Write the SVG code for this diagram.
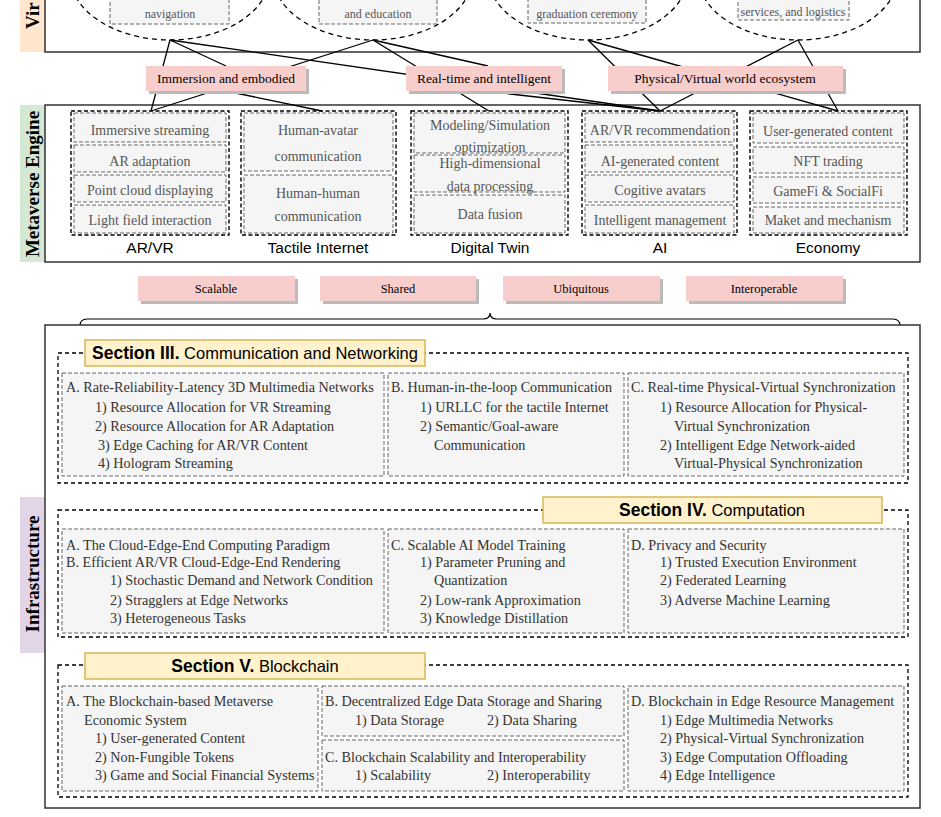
<svg xmlns="http://www.w3.org/2000/svg" width="941" height="817" viewBox="0 0 941 817">
<style>
.frame{fill:#fff;stroke:#333;stroke-width:1.5}
.band-v{fill:#ffe6cc}
.band-e{fill:#d5e8d4}
.band-i{fill:#e1d5e7}
.band-t{font-family:"Liberation Serif",serif;font-weight:bold;font-size:19px;fill:#000}
.ell{fill:#fff;stroke:#000;stroke-width:1.3;stroke-dasharray:5 4}
.item{fill:#f5f5f5;stroke:#666;stroke-width:1;stroke-dasharray:4 2}
.grp{fill:none;stroke:#000;stroke-width:1.4;stroke-dasharray:4 2.5}
.it{font-family:"Liberation Serif",serif;font-size:14px;fill:#555;text-anchor:middle}
.st{font-family:"Liberation Serif",serif;font-size:12px;fill:#555;text-anchor:middle}
.cap{font-family:"Liberation Sans",sans-serif;font-size:15.5px;fill:#000;text-anchor:middle}
.pink{fill:#f8cecc}
.shadow{fill:#bbb}
.pt{font-family:"Liberation Serif",serif;font-size:13.5px;fill:#000;text-anchor:middle}
.pt2{font-family:"Liberation Serif",serif;font-size:12.5px;fill:#000;text-anchor:middle}
.conn{stroke:#000;stroke-width:1.3;fill:none}
.sec{fill:none;stroke:#000;stroke-width:1.3;stroke-dasharray:4 3}
.title{fill:#fff2cc;stroke:#d6b656;stroke-width:1.5}
.tt{font-family:"Liberation Sans",sans-serif;font-size:16.5px;fill:#000;text-anchor:middle}
.tx{font-family:"Liberation Serif",serif;font-size:14.2px;fill:#333}
</style>

<!-- Top band: Virtual -->
<g id="virtual">
<rect class="band-v" x="20" y="0" width="25" height="52"/>
<rect class="frame" x="45" y="-5" width="875" height="57"/>
<text class="band-t" transform="translate(39,29) rotate(-90)">Vir</text>
</g>

<g id="app1">
<ellipse class="ell" cx="170" cy="-25" rx="100" ry="65"/>
<rect class="item" x="110" y="-20" width="119" height="44"/>
<text class="st" x="170" y="18">navigation</text>
</g>
<g id="app2">
<ellipse class="ell" cx="373" cy="-25" rx="100" ry="65"/>
<rect class="item" x="319" y="-20" width="118" height="44"/>
<text class="st" x="378" y="18">and education</text>
</g>
<g id="app3">
<ellipse class="ell" cx="588" cy="-25" rx="100" ry="65"/>
<rect class="item" x="528" y="-20" width="118" height="43"/>
<text class="st" x="587" y="18">graduation ceremony</text>
</g>
<g id="app4">
<ellipse class="ell" cx="798" cy="-25" rx="100" ry="65"/>
<rect class="item" x="738" y="-20" width="111" height="40"/>
<text class="st" x="793" y="16">services, and logistics</text>
</g>

<!-- Engine frame -->
<g id="engine">
<rect class="band-e" x="20" y="105" width="25" height="157"/>
<rect class="frame" x="45" y="105" width="875" height="157"/>
<text class="band-t" text-anchor="middle" transform="translate(39,184) rotate(-90)">Metaverse Engine</text>
</g>

<!-- Connectors -->
<g id="connectors">
<line class="conn" x1="170" y1="40" x2="151" y2="111"/>
<line class="conn" x1="170" y1="40" x2="226" y2="66"/>
<line class="conn" x1="170" y1="40" x2="660" y2="111"/>
<line class="conn" x1="373" y1="40" x2="151" y2="111"/>
<line class="conn" x1="373" y1="40" x2="488" y2="66"/>
<line class="conn" x1="373" y1="40" x2="489" y2="111"/>
<line class="conn" x1="588" y1="40" x2="660" y2="111"/>
<line class="conn" x1="588" y1="40" x2="838" y2="111"/>
<line class="conn" x1="798" y1="40" x2="660" y2="111"/>
<line class="conn" x1="798" y1="40" x2="838" y2="111"/>
<line class="conn" x1="226" y1="91" x2="322" y2="111"/>
<line class="conn" x1="484" y1="91" x2="660" y2="111"/>
</g>

<!-- Feature boxes -->
<g id="f-immersion">
<rect class="shadow" x="149" y="69" width="160" height="25"/>
<rect class="pink" x="146" y="66" width="160" height="25"/>
<text class="pt" x="226" y="83">Immersion and embodied</text>
</g>
<g id="f-realtime">
<rect class="shadow" x="409" y="69" width="156" height="25"/>
<rect class="pink" x="406" y="66" width="156" height="25"/>
<text class="pt" x="484" y="83">Real-time and intelligent</text>
</g>
<g id="f-physical">
<rect class="shadow" x="611" y="69" width="235" height="25"/>
<rect class="pink" x="608" y="66" width="235" height="25"/>
<text class="pt" x="725" y="83">Physical/Virtual world ecosystem</text>
</g>

<!-- Engine groups -->
<g id="arvr">
<rect class="item" x="74" y="113" width="152" height="29"/>
<rect class="item" x="74" y="145" width="152" height="27"/>
<rect class="item" x="74" y="175" width="152" height="27"/>
<rect class="item" x="74" y="205" width="152" height="28"/>
<rect class="grp" x="71" y="111" width="158" height="124"/>
<text class="it" x="150" y="135">Immersive streaming</text>
<text class="it" x="150" y="166">AR adaptation</text>
<text class="it" x="150" y="195">Point cloud displaying</text>
<text class="it" x="150" y="225">Light field interaction</text>
<text class="cap" x="150" y="253">AR/VR</text>
</g>
<g id="tactile">
<rect class="item" x="244" y="113" width="149" height="58"/>
<rect class="item" x="244" y="175" width="149" height="58"/>
<rect class="grp" x="241" y="111" width="155" height="124"/>
<text class="it" x="318" y="135">Human-avatar</text>
<text class="it" x="318" y="161">communication</text>
<text class="it" x="318" y="198">Human-human</text>
<text class="it" x="318" y="221">communication</text>
<text class="cap" x="318" y="253">Tactile Internet</text>
</g>
<g id="twin">
<rect class="item" x="414" y="113" width="151" height="40"/>
<rect class="item" x="414" y="155" width="151" height="37"/>
<rect class="item" x="414" y="195" width="151" height="38"/>
<rect class="grp" x="411" y="111" width="157" height="124"/>
<text class="it" x="490" y="130">Modeling/Simulation</text>
<text class="it" x="490" y="152">optimization</text>
<text class="it" x="490" y="168">High-dimensional</text>
<text class="it" x="490" y="191">data processing</text>
<text class="it" x="490" y="219">Data fusion</text>
<text class="cap" x="490" y="253">Digital Twin</text>
</g>
<g id="ai">
<rect class="item" x="585" y="113" width="149" height="29"/>
<rect class="item" x="585" y="145" width="149" height="27"/>
<rect class="item" x="585" y="175" width="149" height="27"/>
<rect class="item" x="585" y="205" width="149" height="28"/>
<rect class="grp" x="582" y="111" width="155" height="124"/>
<text class="it" x="660" y="135">AR/VR recommendation</text>
<text class="it" x="660" y="166">AI-generated content</text>
<text class="it" x="660" y="195">Cogitive avatars</text>
<text class="it" x="660" y="225">Intelligent management</text>
<text class="cap" x="660" y="253">AI</text>
</g>
<g id="economy">
<rect class="item" x="753" y="113" width="151" height="30"/>
<rect class="item" x="753" y="147" width="151" height="26"/>
<rect class="item" x="753" y="177" width="151" height="26"/>
<rect class="item" x="753" y="207" width="151" height="26"/>
<rect class="grp" x="750" y="111" width="157" height="124"/>
<text class="it" x="828" y="136">User-generated content</text>
<text class="it" x="828" y="166">NFT trading</text>
<text class="it" x="828" y="196">GameFi &amp; SocialFi</text>
<text class="it" x="828" y="225">Maket and mechanism</text>
<text class="cap" x="828" y="253">Economy</text>
</g>

<!-- Properties -->
<g id="p-scalable">
<rect class="shadow" x="141" y="279" width="157" height="25"/>
<rect class="pink" x="138" y="276" width="157" height="25"/>
<text class="pt2" x="216" y="293">Scalable</text>
</g>
<g id="p-shared">
<rect class="shadow" x="323" y="279" width="156" height="25"/>
<rect class="pink" x="320" y="276" width="156" height="25"/>
<text class="pt2" x="398" y="293">Shared</text>
</g>
<g id="p-ubiquitous">
<rect class="shadow" x="506" y="279" width="157" height="25"/>
<rect class="pink" x="503" y="276" width="157" height="25"/>
<text class="pt2" x="581" y="293">Ubiquitous</text>
</g>
<g id="p-interoperable">
<rect class="shadow" x="689" y="279" width="157" height="25"/>
<rect class="pink" x="686" y="276" width="157" height="25"/>
<text class="pt2" x="764" y="293">Interoperable</text>
</g>

<path id="brace" d="M80,326 Q80,319 87,319 L483,319 Q490,319 490,313 Q490,319 497,319 L893,319 Q900,319 900,326" fill="none" stroke="#000" stroke-width="1.2"/>

<!-- Infrastructure -->
<g id="infrastructure">
<rect class="band-i" x="20" y="497" width="25" height="156"/>
<rect class="frame" x="45" y="325" width="875" height="483"/>
<text class="band-t" text-anchor="middle" transform="translate(39,574) rotate(-90)">Infrastructure</text>
</g>

<!-- Section III -->
<g id="sec3">
<rect class="sec" x="58" y="353" width="850" height="130"/>
<rect class="item" x="62" y="373" width="322" height="103"/>
<rect class="item" x="388" y="373" width="236" height="103"/>
<rect class="item" x="628" y="373" width="276" height="103"/>
<rect class="title" x="85" y="340" width="340" height="26"/>
<text class="tt" x="255" y="359"><tspan font-weight="bold" font-size="17.5px">Section III.</tspan> Communication and Networking</text>
<text class="tx" x="66" y="392">A. Rate-Reliability-Latency 3D Multimedia Networks</text>
<text class="tx" x="95" y="412">1) Resource Allocation for VR Streaming</text>
<text class="tx" x="95" y="431">2) Resource Allocation for AR Adaptation</text>
<text class="tx" x="98" y="450" font-size="15px">3) Edge Caching for AR/VR Content</text>
<text class="tx" x="98" y="468" font-size="15px">4) Hologram Streaming</text>
<text class="tx" x="391" y="392">B. Human-in-the-loop Communication</text>
<text class="tx" x="420" y="412">1) URLLC for the tactile Internet</text>
<text class="tx" x="420" y="431">2) Semantic/Goal-aware</text>
<text class="tx" x="434" y="450">Communication</text>
<text class="tx" x="631" y="392">C. Real-time Physical-Virtual Synchronization</text>
<text class="tx" x="660" y="412">1) Resource Allocation for Physical-</text>
<text class="tx" x="674" y="431">Virtual Synchronization</text>
<text class="tx" x="660" y="450">2) Intelligent Edge Network-aided</text>
<text class="tx" x="674" y="468">Virtual-Physical Synchronization</text>
</g>

<!-- Section IV -->
<g id="sec4">
<rect class="sec" x="58" y="510" width="850" height="127"/>
<rect class="item" x="62" y="529" width="322" height="104"/>
<rect class="item" x="388" y="529" width="236" height="104"/>
<rect class="item" x="628" y="529" width="276" height="104"/>
<rect class="title" x="543" y="497" width="339" height="26"/>
<text class="tt" x="712" y="516"><tspan font-weight="bold" font-size="17.5px">Section IV.</tspan> Computation</text>
<text class="tx" x="66" y="550">A. The Cloud-Edge-End Computing Paradigm</text>
<text class="tx" x="66" y="567">B. Efficient AR/VR Cloud-Edge-End Rendering</text>
<text class="tx" x="110" y="585">1) Stochastic Demand and Network Condition</text>
<text class="tx" x="110" y="605">2) Stragglers at Edge Networks</text>
<text class="tx" x="110" y="623">3) Heterogeneous Tasks</text>
<text class="tx" x="391" y="550">C. Scalable AI Model Training</text>
<text class="tx" x="420" y="567">1) Parameter Pruning and</text>
<text class="tx" x="434" y="585">Quantization</text>
<text class="tx" x="420" y="605">2) Low-rank Approximation</text>
<text class="tx" x="420" y="623">3) Knowledge Distillation</text>
<text class="tx" x="631" y="550">D. Privacy and Security</text>
<text class="tx" x="660" y="567">1) Trusted Execution Environment</text>
<text class="tx" x="660" y="585">2) Federated Learning</text>
<text class="tx" x="660" y="605">3) Adverse Machine Learning</text>
</g>

<!-- Section V -->
<g id="sec5">
<rect class="sec" x="58" y="665" width="850" height="132"/>
<rect class="item" x="62" y="686" width="256" height="105"/>
<rect class="item" x="322" y="686" width="302" height="50"/>
<rect class="item" x="322" y="740" width="302" height="51"/>
<rect class="item" x="628" y="686" width="276" height="105"/>
<rect class="title" x="85" y="653" width="340" height="26"/>
<text class="tt" x="255" y="672"><tspan font-weight="bold" font-size="17.5px">Section V.</tspan> Blockchain</text>
<text class="tx" x="66" y="706">A. The Blockchain-based Metaverse</text>
<text class="tx" x="84" y="725">Economic System</text>
<text class="tx" x="95" y="743">1) User-generated Content</text>
<text class="tx" x="95" y="762">2) Non-Fungible Tokens</text>
<text class="tx" x="95" y="780">3) Game and Social Financial Systems</text>
<text class="tx" x="325" y="706">B. Decentralized Edge Data Storage and Sharing</text>
<text class="tx" x="355" y="725">1) Data Storage</text>
<text class="tx" x="487" y="725">2) Data Sharing</text>
<text class="tx" x="325" y="762">C. Blockchain Scalability and Interoperability</text>
<text class="tx" x="355" y="780">1) Scalability</text>
<text class="tx" x="487" y="780">2) Interoperability</text>
<text class="tx" x="631" y="706">D. Blockchain in Edge Resource Management</text>
<text class="tx" x="660" y="725">1) Edge Multimedia Networks</text>
<text class="tx" x="660" y="743">2) Physical-Virtual Synchronization</text>
<text class="tx" x="660" y="762">3) Edge Computation Offloading</text>
<text class="tx" x="660" y="780">4) Edge Intelligence</text>
</g>
</svg>
